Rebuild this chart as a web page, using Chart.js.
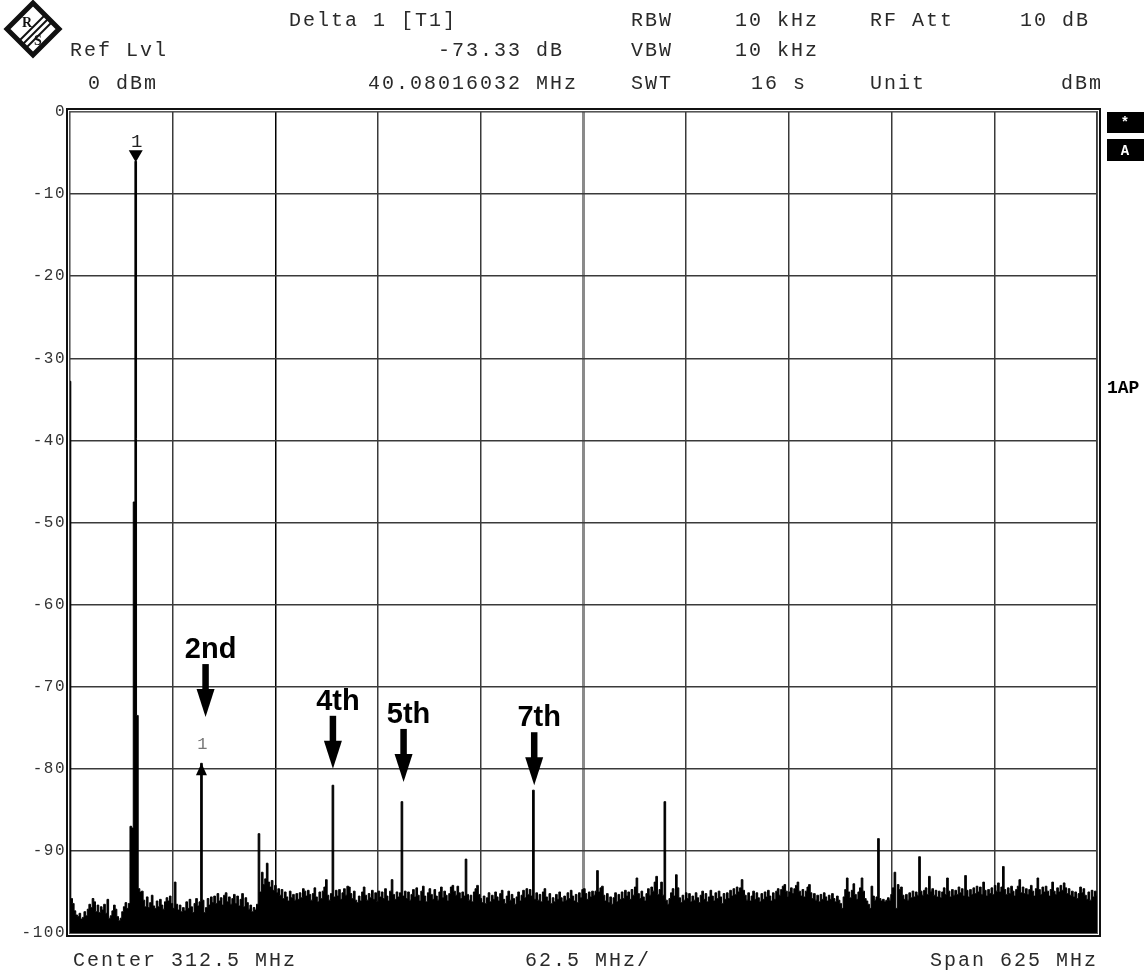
<!DOCTYPE html>
<html>
<head>
<meta charset="utf-8">
<title>Spectrum</title>
<script src="https://cdn.jsdelivr.net/npm/chart.js@4.4.0/dist/chart.umd.min.js"></script>
<style>
  html, body { margin: 0; padding: 0; background: #fff; }
  #wrap { width: 1148px; height: 974px; position: relative; }
</style>
</head>
<body>
<div id="wrap"><canvas id="spectrum" width="1148" height="974"></canvas></div>
<script>
// sweep: 0 .. 625 MHz, one trace point per MHz
const startMhz = 0;
const stopMhz = 625;
const stepMhz = 1;
const divMhz = 62.5;

const refLevelDbm = 0;
const bottomDbm = -100;
const dbPerDiv = 10;

// max-hold trace in dBm
const traceDbm = [
  -32.8, -95.8, -96.4, -97.3, -97.8, -98.0, -97.6, -98.3, -98.1, -97.4, -97.9, -97.1, -96.5, -96.9, -95.8, -96.2, -97.4, -96.6, -97.5, -96.8,
  -97.2, -96.5, -97.6, -95.9, -98.2, -97.9, -97.3, -96.6, -97.1, -98.0, -98.5, -98.2, -97.4, -96.8, -96.3, -97.0, -96.4, -87.0, -87.2, -47.5,
  -6.0, -73.5, -94.6, -95.0, -94.9, -96.0, -96.8, -95.6, -96.9, -96.3, -95.4, -96.7, -97.0, -96.1, -96.8, -95.9, -96.6, -97.1, -96.2, -95.7,
  -96.1, -95.5, -96.4, -97.0, -93.8, -96.5, -97.2, -96.6, -97.4, -96.9, -97.3, -96.2, -97.0, -95.9, -96.8, -97.5, -96.4, -95.8, -96.7, -96.2,
  -79.33, -96.0, -97.5, -96.9, -95.8, -96.6, -95.6, -96.3, -95.5, -96.4, -95.2, -96.1, -95.7, -96.6, -95.4, -95.1, -96.2, -95.6, -96.5, -95.8,
  -95.3, -96.4, -95.5, -96.7, -95.9, -95.2, -96.8, -95.7, -96.3, -97.1, -96.6, -97.4, -96.9, -97.2, -96.5, -87.9, -95.0, -92.6, -94.1, -93.4,
  -91.5, -93.8, -94.4, -93.6, -94.8, -94.2, -95.1, -94.6, -95.4, -94.7, -95.8, -95.0, -95.6, -96.1, -94.9, -95.7, -95.3, -96.0, -95.2, -95.9,
  -95.1, -95.7, -94.6, -94.9, -95.5, -94.8, -95.3, -96.0, -95.2, -94.5, -95.6, -96.2, -95.0, -95.8, -94.9, -94.4, -93.5, -95.4, -96.0, -95.2,
  -82.0, -95.6, -94.8, -95.5, -94.7, -95.9, -95.1, -94.6, -95.4, -94.3, -94.4, -95.2, -95.8, -94.9, -96.0, -96.3, -95.5, -96.1, -95.0, -94.4,
  -95.4, -96.0, -95.2, -95.7, -94.8, -95.9, -95.1, -96.2, -94.9, -95.6, -95.0, -95.8, -94.6, -95.5, -96.1, -94.9, -93.5, -95.3, -95.9, -95.0,
  -95.6, -95.1, -84.0, -95.5, -94.9, -95.8, -95.0, -96.0, -95.3, -94.7, -95.6, -94.5, -95.4, -96.1, -94.9, -94.3, -95.5, -96.2, -95.1, -94.6,
  -95.3, -95.9, -94.7, -95.5, -96.0, -95.0, -94.4, -95.7, -94.9, -95.4, -96.1, -95.2, -94.4, -94.2, -94.9, -95.4, -94.3, -95.1, -95.8, -95.0,
  -95.5, -91.0, -95.3, -96.0, -95.4, -96.2, -95.0, -94.6, -94.2, -95.3, -95.8, -96.3, -95.5, -96.4, -95.7, -95.1, -96.2, -95.4, -95.9, -95.0,
  -95.6, -96.1, -95.2, -94.8, -95.9, -96.4, -95.5, -94.9, -96.0, -95.3, -95.8, -96.5, -95.6, -95.0, -96.1, -95.4, -94.8, -95.7, -94.6, -95.3,
  -94.7, -95.5, -82.6, -95.9, -95.1, -96.0, -95.3, -96.2, -95.0, -94.6, -95.6, -96.1, -95.2, -96.4, -95.7, -96.2, -95.3, -95.9, -95.0, -95.7,
  -96.2, -95.5, -96.0, -95.1, -95.8, -94.8, -95.5, -96.1, -95.3, -96.3, -95.1, -95.7, -94.7, -94.6, -95.2, -95.9, -95.0, -95.6, -94.9, -95.4,
  -94.9, -92.4, -95.0, -94.5, -94.3, -95.4, -96.1, -95.2, -96.3, -95.6, -96.5, -95.7, -95.1, -96.2, -95.3, -95.9, -95.0, -95.8, -94.8, -95.5,
  -95.0, -95.9, -94.7, -95.4, -94.4, -93.3, -95.2, -95.8, -94.9, -95.6, -96.1, -95.2, -94.6, -95.4, -94.4, -94.9, -93.8, -93.1, -95.3, -94.7,
  -93.8, -95.4, -84.0, -96.0, -96.5, -95.8, -95.1, -94.6, -95.5, -92.9, -94.5, -95.7, -96.3, -95.4, -96.0, -95.1, -95.8, -95.2, -96.2, -95.5,
  -96.0, -95.1, -95.7, -96.3, -95.4, -94.9, -95.9, -95.2, -96.2, -95.6, -94.8, -95.5, -96.1, -95.1, -95.8, -94.9, -95.6, -96.4, -95.2, -95.9,
  -95.1, -95.8, -94.8, -95.5, -94.6, -95.3, -94.4, -95.0, -94.5, -93.5, -94.8, -95.4, -96.0, -95.1, -96.1, -95.5, -94.9, -95.9, -95.1, -95.7,
  -96.2, -95.2, -95.9, -95.0, -95.6, -94.8, -95.5, -96.1, -95.1, -95.9, -94.9, -94.6, -95.4, -94.7, -94.3, -94.1, -94.9, -95.6, -95.0, -94.5,
  -95.2, -94.6, -94.2, -93.8, -94.9, -95.5, -94.7, -95.6, -94.9, -94.4, -94.1, -95.1, -95.8, -95.2, -96.0, -95.4, -96.2, -95.3, -95.9, -95.1,
  -95.6, -96.1, -95.4, -95.9, -95.2, -95.8, -96.2, -95.5, -96.0, -96.4, -97.0, -95.6, -94.7, -93.3, -95.0, -95.7, -94.8, -94.0, -95.3, -95.9,
  -95.0, -94.5, -93.3, -94.9, -95.8, -96.1, -96.5, -97.0, -94.3, -95.5, -96.0, -95.6, -88.5, -95.8, -96.1, -95.9, -96.2, -96.0, -95.7, -96.0,
  -95.3, -94.5, -92.6, -97.0, -94.1, -94.7, -94.4, -95.4, -95.9, -95.3, -96.0, -95.1, -95.7, -94.9, -95.6, -95.0, -95.4, -90.7, -94.9, -95.4,
  -94.8, -94.5, -95.3, -93.1, -94.9, -94.6, -95.4, -94.8, -95.6, -94.9, -95.7, -95.0, -94.5, -95.3, -93.3, -94.9, -95.6, -94.7, -95.4, -94.8,
  -95.3, -94.4, -95.1, -94.6, -95.5, -93.0, -94.8, -95.6, -94.7, -95.3, -94.5, -95.2, -94.3, -95.0, -94.4, -95.3, -93.8, -94.8, -95.5, -94.7,
  -95.2, -94.5, -95.3, -94.2, -94.9, -93.9, -95.0, -94.4, -91.9, -94.7, -95.3, -94.5, -95.2, -94.3, -94.9, -95.5, -94.7, -94.3, -93.5, -95.1,
  -94.4, -95.2, -94.6, -95.3, -94.7, -94.2, -94.9, -95.5, -94.6, -93.3, -94.7, -95.3, -94.4, -95.0, -94.3, -94.9, -95.5, -94.7, -93.8, -94.9,
  -95.3, -94.5, -95.0, -94.2, -94.8, -93.9, -94.5, -95.2, -94.6, -95.4, -94.9, -95.6, -95.0, -95.8, -95.2, -94.4, -95.1, -94.6, -95.4, -95.9,
  -95.0, -96.0, -94.8, -95.6, -94.9, -95.5
];

// marker 1 on the fundamental, delta marker on the 2nd harmonic
const markerMhz = 40;
const deltaMarkerMhz = 80;
const deltaDb = -73.33;
const deltaMhz = 40.08016032;

// harmonic callouts: label, arrow position (MHz) and arrow tip level (dBm)
const harmonicLabels = ['2nd', '4th', '5th', '7th'];
const arrowMhz = [82.5, 160, 203, 282.5];
const arrowTipDbm = [-73.7, -80, -81.6, -82];

const traceData = traceDbm.map((v, i) => ({ x: startMhz + i * stepMhz, y: v }));

const MONO = 'Liberation Mono, DejaVu Sans Mono, monospace';

function drawLogo(ctx, cx, cy, r) {
  ctx.save();
  ctx.translate(cx, cy);
  ctx.beginPath();
  ctx.moveTo(0, -r);
  ctx.lineTo(r, 0);
  ctx.lineTo(0, r);
  ctx.lineTo(-r, 0);
  ctx.closePath();
  ctx.lineWidth = 5;
  ctx.lineJoin = 'miter';
  ctx.strokeStyle = '#111';
  ctx.stroke();
  // three diagonal stripes from the upper right edge to the lower left edge
  ctx.lineWidth = 2;
  for (const off of [-1, 2.5, 6]) {
    ctx.beginPath();
    ctx.moveTo(r / 2 + off, -r / 2 + off);
    ctx.lineTo(-r / 2 + off, r / 2 + off);
    ctx.stroke();
  }
  ctx.fillStyle = '#111';
  ctx.font = 'bold 14px Liberation Serif, serif';
  ctx.textAlign = 'center';
  ctx.fillText('R', -6, -2);
  ctx.fillText('S', 5, 16);
  ctx.restore();
}

function text(ctx, s, x, yBase, align) {
  ctx.textAlign = align || 'left';
  ctx.fillText(s, x, yBase);
}

const analyzerOverlay = {
  id: 'analyzerOverlay',
  beforeDraw(chart) {
    // wide spacing for the axis digits
    chart.ctx.letterSpacing = '1.5px';
  },
  afterDraw(chart) {
    const { ctx, chartArea: a, scales: { x, y } } = chart;
    ctx.save();

    // double frame round the graticule
    ctx.strokeStyle = '#555';
    ctx.lineWidth = 1;
    ctx.strokeRect(a.left - 0.5, a.top - 0.5, a.right - a.left + 1, a.bottom - a.top + 1);
    ctx.strokeStyle = '#111';
    ctx.lineWidth = 2;
    ctx.strokeRect(a.left - 3, a.top - 3, a.right - a.left + 6, a.bottom - a.top + 6);

    // header and footer
    ctx.fillStyle = '#2a2a2a';
    ctx.font = '20px ' + MONO;
    ctx.letterSpacing = '2px';
    ctx.textBaseline = 'alphabetic';
    text(ctx, 'Delta 1 [T1]', 289, 26);
    text(ctx, 'RBW', 631, 26);
    text(ctx, '10 kHz', 735, 26);
    text(ctx, 'RF Att', 870, 26);
    text(ctx, '10 dB', 1020, 26);

    text(ctx, 'Ref Lvl', 70, 56);
    text(ctx, deltaDb.toFixed(2) + ' dB', 564, 56, 'right');
    text(ctx, 'VBW', 631, 56);
    text(ctx, '10 kHz', 735, 56);

    text(ctx, refLevelDbm + ' dBm', 88, 89);
    text(ctx, deltaMhz.toFixed(8) + ' MHz', 578, 89, 'right');
    text(ctx, 'SWT', 631, 89);
    text(ctx, '16 s', 751, 89);
    text(ctx, 'Unit', 870, 89);
    text(ctx, 'dBm', 1103, 89, 'right');

    text(ctx, 'Center ' + ((startMhz + stopMhz) / 2) + ' MHz', 73, 966);
    text(ctx, divMhz + ' MHz/', 525, 966);
    text(ctx, 'Span ' + (stopMhz - startMhz) + ' MHz', 1098, 966, 'right');

    ctx.letterSpacing = '0px';
    drawLogo(ctx, 33, 29, 26);

    // side annotations
    ctx.fillStyle = '#000';
    ctx.fillRect(1107, 112, 37, 21);
    ctx.fillRect(1107, 139, 37, 22);
    ctx.fillStyle = '#fff';
    ctx.font = 'bold 14px ' + MONO;
    text(ctx, '*', 1125, 127, 'center');
    text(ctx, 'A', 1125, 155, 'center');
    ctx.fillStyle = '#000';
    ctx.font = 'bold 18px ' + MONO;
    text(ctx, '1AP', 1107, 393);

    // marker 1 on the fundamental
    const mx = x.getPixelForValue(markerMhz);
    const my = y.getPixelForValue(traceDbm[(markerMhz - startMhz) / stepMhz]);
    ctx.beginPath();
    ctx.moveTo(mx - 7, my - 11);
    ctx.lineTo(mx + 7, my - 11);
    ctx.lineTo(mx, my + 1);
    ctx.closePath();
    ctx.fill();
    ctx.font = '19px ' + MONO;
    ctx.fillStyle = '#222';
    text(ctx, '1', mx + 1, my - 14, 'center');

    // delta marker on the 2nd harmonic
    const dx = x.getPixelForValue(deltaMarkerMhz);
    const dy = y.getPixelForValue(traceDbm[(deltaMarkerMhz - startMhz) / stepMhz]);
    ctx.fillStyle = '#000';
    ctx.beginPath();
    ctx.moveTo(dx, dy);
    ctx.lineTo(dx + 5.5, dy + 12);
    ctx.lineTo(dx - 5.5, dy + 12);
    ctx.closePath();
    ctx.fill();
    ctx.fillStyle = '#777';
    ctx.font = '17px ' + MONO;
    text(ctx, '1', dx + 1, dy - 14, 'center');

    // harmonic callouts
    ctx.fillStyle = '#000';
    ctx.font = 'bold 29px Liberation Sans, Arial, sans-serif';
    harmonicLabels.forEach((label, k) => {
      const ax = x.getPixelForValue(arrowMhz[k]);
      const tip = y.getPixelForValue(arrowTipDbm[k]);
      ctx.fillRect(ax - 3.25, tip - 53, 6.5, 27);
      ctx.beginPath();
      ctx.moveTo(ax - 9, tip - 28);
      ctx.lineTo(ax + 9, tip - 28);
      ctx.lineTo(ax, tip);
      ctx.closePath();
      ctx.fill();
      text(ctx, label, ax + 5, tip - 59, 'center');
    });

    ctx.restore();
  }
};

new Chart(document.getElementById('spectrum'), {
  type: 'line',
  data: {
    datasets: [{
      data: traceData,
      borderColor: '#000',
      backgroundColor: '#000',
      borderWidth: 1,
      pointRadius: 0,
      stepped: 'middle',
      fill: 'start'
    }]
  },
  options: {
    responsive: false,
    devicePixelRatio: 1,
    animation: false,
    events: [],
    layout: { padding: { left: 0, top: 112, right: 51, bottom: 41 } },
    plugins: { legend: { display: false }, tooltip: { enabled: false } },
    scales: {
      x: {
        type: 'linear',
        min: startMhz,
        max: stopMhz,
        border: { display: false },
        ticks: { display: false, stepSize: divMhz },
        grid: {
          drawTicks: false,
          lineWidth: ctx => (ctx.index === 5 ? 3 : 1.5),
          color: ctx => {
            if (ctx.index === 2) return '#000';
            if (ctx.index === 5) return '#8a8a8a';
            return '#3a3a3a';
          }
        },
        afterFit: s => { s.height = 0; }
      },
      y: {
        min: bottomDbm,
        max: refLevelDbm,
        border: { display: false },
        ticks: {
          stepSize: dbPerDiv,
          padding: 4,
          color: '#333',
          font: { family: MONO, size: 16 }
        },
        grid: { drawTicks: false, color: '#3a3a3a', lineWidth: 1.5 },
        afterFit: s => { s.width = 70; }
      }
    }
  },
  plugins: [analyzerOverlay]
});
</script>
</body>
</html>
